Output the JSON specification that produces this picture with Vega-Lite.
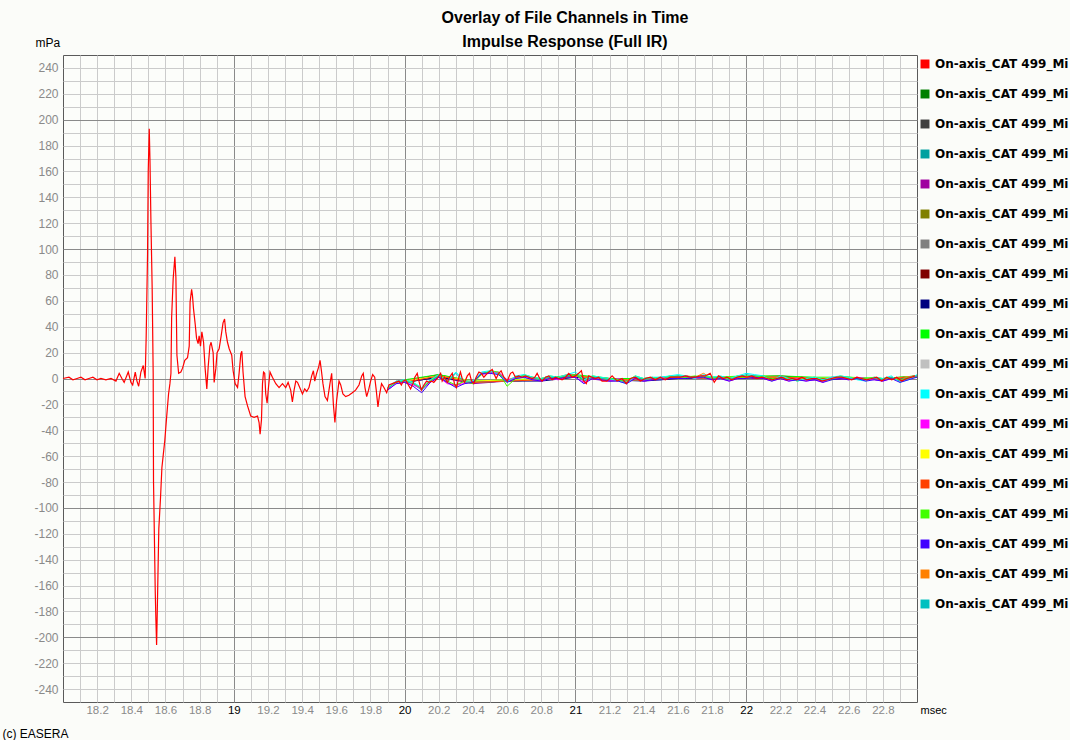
{
"$schema": "https://vega.github.io/schema/vega-lite/v6.json",
"width": 854, "height": 647,
"autosize": {"type": "none"},
"padding": {"left": 63, "top": 55, "right": 153, "bottom": 38},
"background": "#fbfcf9",
"config": {"view": {"stroke": "#5a5a5a", "fill": "#fcfdfa", "strokeWidth": 1}},
"title": {"text": ["Overlay of File Channels in Time", "Impulse Response (Full IR)"], "anchor": "middle", "dx": 75, "offset": -14, "fontSize": 16, "font": "Liberation Sans", "fontWeight": "bold", "lineHeight": 24, "color": "#000000"},
"datasets": {
"channels": [
{"c":1,"name":"On-axis_CAT 499_Mic 01"},{"c":2,"name":"On-axis_CAT 499_Mic 02"},{"c":3,"name":"On-axis_CAT 499_Mic 03"},{"c":4,"name":"On-axis_CAT 499_Mic 04"},{"c":5,"name":"On-axis_CAT 499_Mic 05"},{"c":6,"name":"On-axis_CAT 499_Mic 06"},{"c":7,"name":"On-axis_CAT 499_Mic 07"},{"c":8,"name":"On-axis_CAT 499_Mic 08"},{"c":9,"name":"On-axis_CAT 499_Mic 09"},{"c":10,"name":"On-axis_CAT 499_Mic 10"},{"c":11,"name":"On-axis_CAT 499_Mic 11"},{"c":12,"name":"On-axis_CAT 499_Mic 12"},{"c":13,"name":"On-axis_CAT 499_Mic 13"},{"c":14,"name":"On-axis_CAT 499_Mic 14"},{"c":15,"name":"On-axis_CAT 499_Mic 15"},{"c":16,"name":"On-axis_CAT 499_Mic 16"},{"c":17,"name":"On-axis_CAT 499_Mic 17"},{"c":18,"name":"On-axis_CAT 499_Mic 18"},{"c":19,"name":"On-axis_CAT 499_Mic 19"}
],
"ir": [
{"c":2,"t":20,"v":-2},{"c":2,"t":20.2,"v":2},{"c":2,"t":20.4,"v":-3},{"c":2,"t":20.6,"v":-2},{"c":2,"t":20.8,"v":-1},{"c":2,"t":21,"v":2},{"c":2,"t":21.2,"v":-1},{"c":2,"t":21.4,"v":-1},{"c":2,"t":21.6,"v":1},{"c":2,"t":21.8,"v":0},{"c":2,"t":22,"v":1},{"c":2,"t":22.2,"v":1},{"c":2,"t":22.4,"v":0},{"c":2,"t":22.6,"v":0},{"c":2,"t":22.8,"v":-1},{"c":2,"t":23,"v":2},
{"c":3,"t":20,"v":-3},{"c":3,"t":20.2,"v":1},{"c":3,"t":20.4,"v":-3},{"c":3,"t":20.6,"v":-1},{"c":3,"t":20.8,"v":-1},{"c":3,"t":21,"v":2},{"c":3,"t":21.2,"v":-1},{"c":3,"t":21.4,"v":0},{"c":3,"t":21.6,"v":1},{"c":3,"t":21.8,"v":0},{"c":3,"t":22,"v":1},{"c":3,"t":22.2,"v":1},{"c":3,"t":22.4,"v":0},{"c":3,"t":22.6,"v":0},{"c":3,"t":22.8,"v":-1},{"c":3,"t":23,"v":1},
{"c":4,"t":20,"v":-2},{"c":4,"t":20.2,"v":2},{"c":4,"t":20.4,"v":-2},{"c":4,"t":20.6,"v":-2},{"c":4,"t":20.8,"v":0},{"c":4,"t":21,"v":2},{"c":4,"t":21.2,"v":-1},{"c":4,"t":21.4,"v":-1},{"c":4,"t":21.6,"v":1},{"c":4,"t":21.8,"v":1},{"c":4,"t":22,"v":1},{"c":4,"t":22.2,"v":1},{"c":4,"t":22.4,"v":0},{"c":4,"t":22.6,"v":1},{"c":4,"t":22.8,"v":-1},{"c":4,"t":23,"v":2},
{"c":5,"t":20,"v":-3},{"c":5,"t":20.2,"v":1},{"c":5,"t":20.4,"v":-4},{"c":5,"t":20.6,"v":-2},{"c":5,"t":20.8,"v":-1},{"c":5,"t":21,"v":1},{"c":5,"t":21.2,"v":-2},{"c":5,"t":21.4,"v":-1},{"c":5,"t":21.6,"v":0},{"c":5,"t":21.8,"v":0},{"c":5,"t":22,"v":0},{"c":5,"t":22.2,"v":0},{"c":5,"t":22.4,"v":-1},{"c":5,"t":22.6,"v":0},{"c":5,"t":22.8,"v":-1},{"c":5,"t":23,"v":1},
{"c":6,"t":20,"v":-2},{"c":6,"t":20.2,"v":2},{"c":6,"t":20.4,"v":-3},{"c":6,"t":20.6,"v":-1},{"c":6,"t":20.8,"v":-1},{"c":6,"t":21,"v":2},{"c":6,"t":21.2,"v":-1},{"c":6,"t":21.4,"v":-1},{"c":6,"t":21.6,"v":1},{"c":6,"t":21.8,"v":0},{"c":6,"t":22,"v":1},{"c":6,"t":22.2,"v":1},{"c":6,"t":22.4,"v":0},{"c":6,"t":22.6,"v":0},{"c":6,"t":22.8,"v":0},{"c":6,"t":23,"v":2},
{"c":7,"t":20,"v":-2},{"c":7,"t":20.2,"v":2},{"c":7,"t":20.4,"v":-3},{"c":7,"t":20.6,"v":-2},{"c":7,"t":20.8,"v":-1},{"c":7,"t":21,"v":1},{"c":7,"t":21.2,"v":-1},{"c":7,"t":21.4,"v":-1},{"c":7,"t":21.6,"v":1},{"c":7,"t":21.8,"v":0},{"c":7,"t":22,"v":1},{"c":7,"t":22.2,"v":1},{"c":7,"t":22.4,"v":0},{"c":7,"t":22.6,"v":0},{"c":7,"t":22.8,"v":-1},{"c":7,"t":23,"v":2},
{"c":8,"t":20,"v":-2},{"c":8,"t":20.2,"v":3},{"c":8,"t":20.4,"v":-3},{"c":8,"t":20.6,"v":-2},{"c":8,"t":20.8,"v":-1},{"c":8,"t":21,"v":2},{"c":8,"t":21.2,"v":0},{"c":8,"t":21.4,"v":-1},{"c":8,"t":21.6,"v":1},{"c":8,"t":21.8,"v":0},{"c":8,"t":22,"v":1},{"c":8,"t":22.2,"v":2},{"c":8,"t":22.4,"v":0},{"c":8,"t":22.6,"v":0},{"c":8,"t":22.8,"v":-1},{"c":8,"t":23,"v":2},
{"c":9,"t":20,"v":-3},{"c":9,"t":20.2,"v":1},{"c":9,"t":20.4,"v":-3},{"c":9,"t":20.6,"v":-2},{"c":9,"t":20.8,"v":-2},{"c":9,"t":21,"v":1},{"c":9,"t":21.2,"v":-1},{"c":9,"t":21.4,"v":-2},{"c":9,"t":21.6,"v":0},{"c":9,"t":21.8,"v":0},{"c":9,"t":22,"v":1},{"c":9,"t":22.2,"v":0},{"c":9,"t":22.4,"v":-1},{"c":9,"t":22.6,"v":0},{"c":9,"t":22.8,"v":-1},{"c":9,"t":23,"v":1},
{"c":10,"t":20,"v":-1},{"c":10,"t":20.2,"v":3},{"c":10,"t":20.4,"v":-2},{"c":10,"t":20.6,"v":-1},{"c":10,"t":20.8,"v":0},{"c":10,"t":21,"v":3},{"c":10,"t":21.2,"v":0},{"c":10,"t":21.4,"v":0},{"c":10,"t":21.6,"v":2},{"c":10,"t":21.8,"v":1},{"c":10,"t":22,"v":2},{"c":10,"t":22.2,"v":2},{"c":10,"t":22.4,"v":1},{"c":10,"t":22.6,"v":1},{"c":10,"t":22.8,"v":0},{"c":10,"t":23,"v":2},
{"c":11,"t":20,"v":-2},{"c":11,"t":20.2,"v":2},{"c":11,"t":20.4,"v":-3},{"c":11,"t":20.6,"v":-2},{"c":11,"t":20.8,"v":-1},{"c":11,"t":21,"v":2},{"c":11,"t":21.2,"v":-1},{"c":11,"t":21.4,"v":-1},{"c":11,"t":21.6,"v":1},{"c":11,"t":21.8,"v":0},{"c":11,"t":22,"v":1},{"c":11,"t":22.2,"v":1},{"c":11,"t":22.4,"v":0},{"c":11,"t":22.6,"v":0},{"c":11,"t":22.8,"v":-1},{"c":11,"t":23,"v":2},
{"c":14,"t":20,"v":-2},{"c":14,"t":20.2,"v":2},{"c":14,"t":20.4,"v":-2},{"c":14,"t":20.6,"v":-1},{"c":14,"t":20.8,"v":-1},{"c":14,"t":21,"v":2},{"c":14,"t":21.2,"v":-1},{"c":14,"t":21.4,"v":-1},{"c":14,"t":21.6,"v":1},{"c":14,"t":21.8,"v":1},{"c":14,"t":22,"v":1},{"c":14,"t":22.2,"v":1},{"c":14,"t":22.4,"v":0},{"c":14,"t":22.6,"v":1},{"c":14,"t":22.8,"v":-1},{"c":14,"t":23,"v":2},
{"c":15,"t":20,"v":-3},{"c":15,"t":20.2,"v":2},{"c":15,"t":20.4,"v":-3},{"c":15,"t":20.6,"v":-2},{"c":15,"t":20.8,"v":-1},{"c":15,"t":21,"v":2},{"c":15,"t":21.2,"v":-1},{"c":15,"t":21.4,"v":-1},{"c":15,"t":21.6,"v":1},{"c":15,"t":21.8,"v":0},{"c":15,"t":22,"v":1},{"c":15,"t":22.2,"v":1},{"c":15,"t":22.4,"v":0},{"c":15,"t":22.6,"v":0},{"c":15,"t":22.8,"v":-1},{"c":15,"t":23,"v":2},
{"c":18,"t":19.9,"v":-8},{"c":18,"t":19.95,"v":-2},{"c":18,"t":20,"v":-2},{"c":18,"t":20.05,"v":-4},{"c":18,"t":20.1,"v":-8},{"c":18,"t":20.15,"v":-1},{"c":18,"t":20.2,"v":2},{"c":18,"t":20.25,"v":-3},{"c":18,"t":20.3,"v":-6},{"c":18,"t":20.35,"v":-2},{"c":18,"t":20.4,"v":-3},{"c":18,"t":20.45,"v":4},{"c":18,"t":20.5,"v":5},{"c":18,"t":20.55,"v":4},{"c":18,"t":20.6,"v":-1},{"c":18,"t":20.65,"v":1},{"c":18,"t":20.7,"v":2},{"c":18,"t":20.75,"v":1},{"c":18,"t":20.8,"v":-1},{"c":18,"t":20.85,"v":1},{"c":18,"t":20.9,"v":1},{"c":18,"t":20.95,"v":3},{"c":18,"t":21,"v":3},{"c":18,"t":21.05,"v":-2},{"c":18,"t":21.1,"v":1},{"c":18,"t":21.15,"v":0},{"c":18,"t":21.2,"v":-1},{"c":18,"t":21.25,"v":-1},{"c":18,"t":21.3,"v":-3},{"c":18,"t":21.35,"v":1},{"c":18,"t":21.4,"v":-1},{"c":18,"t":21.45,"v":0},{"c":18,"t":21.5,"v":0},{"c":18,"t":21.55,"v":1},{"c":18,"t":21.6,"v":1},{"c":18,"t":21.65,"v":2},{"c":18,"t":21.7,"v":1},{"c":18,"t":21.75,"v":4},{"c":18,"t":21.8,"v":0},{"c":18,"t":21.85,"v":1},{"c":18,"t":21.9,"v":-1},{"c":18,"t":21.95,"v":1},{"c":18,"t":22,"v":1},{"c":18,"t":22.05,"v":2},{"c":18,"t":22.1,"v":1},{"c":18,"t":22.15,"v":-1},{"c":18,"t":22.2,"v":1},{"c":18,"t":22.25,"v":-1},{"c":18,"t":22.3,"v":-1},{"c":18,"t":22.35,"v":-1},{"c":18,"t":22.4,"v":0},{"c":18,"t":22.45,"v":-2},{"c":18,"t":22.5,"v":0},{"c":18,"t":22.55,"v":1},{"c":18,"t":22.6,"v":0},{"c":18,"t":22.65,"v":0},{"c":18,"t":22.7,"v":-1},{"c":18,"t":22.75,"v":0},{"c":18,"t":22.8,"v":-1},{"c":18,"t":22.85,"v":1},{"c":18,"t":22.9,"v":-2},{"c":18,"t":22.95,"v":0},{"c":18,"t":23,"v":2},
{"c":19,"t":19.9,"v":-8},{"c":19,"t":19.95,"v":-3},{"c":19,"t":20,"v":-2},{"c":19,"t":20.05,"v":-4},{"c":19,"t":20.1,"v":-9},{"c":19,"t":20.15,"v":-2},{"c":19,"t":20.2,"v":2},{"c":19,"t":20.25,"v":-3},{"c":19,"t":20.3,"v":4},{"c":19,"t":20.35,"v":-3},{"c":19,"t":20.4,"v":-3},{"c":19,"t":20.45,"v":4},{"c":19,"t":20.5,"v":5},{"c":19,"t":20.55,"v":4},{"c":19,"t":20.6,"v":-2},{"c":19,"t":20.65,"v":1},{"c":19,"t":20.7,"v":2},{"c":19,"t":20.75,"v":0},{"c":19,"t":20.8,"v":-1},{"c":19,"t":20.85,"v":1},{"c":19,"t":20.9,"v":0},{"c":19,"t":20.95,"v":2},{"c":19,"t":21,"v":3},{"c":19,"t":21.05,"v":-2},{"c":19,"t":21.1,"v":1},{"c":19,"t":21.15,"v":0},{"c":19,"t":21.2,"v":-1},{"c":19,"t":21.25,"v":-1},{"c":19,"t":21.3,"v":-3},{"c":19,"t":21.35,"v":1},{"c":19,"t":21.4,"v":-1},{"c":19,"t":21.45,"v":0},{"c":19,"t":21.5,"v":0},{"c":19,"t":21.55,"v":1},{"c":19,"t":21.6,"v":2},{"c":19,"t":21.65,"v":1},{"c":19,"t":21.7,"v":1},{"c":19,"t":21.75,"v":2},{"c":19,"t":21.8,"v":0},{"c":19,"t":21.85,"v":1},{"c":19,"t":21.9,"v":-1},{"c":19,"t":21.95,"v":1},{"c":19,"t":22,"v":3},{"c":19,"t":22.05,"v":2},{"c":19,"t":22.1,"v":1},{"c":19,"t":22.15,"v":-1},{"c":19,"t":22.2,"v":1},{"c":19,"t":22.25,"v":-1},{"c":19,"t":22.3,"v":-1},{"c":19,"t":22.35,"v":-1},{"c":19,"t":22.4,"v":0},{"c":19,"t":22.45,"v":-2},{"c":19,"t":22.5,"v":0},{"c":19,"t":22.55,"v":1},{"c":19,"t":22.6,"v":0},{"c":19,"t":22.65,"v":0},{"c":19,"t":22.7,"v":-1},{"c":19,"t":22.75,"v":0},{"c":19,"t":22.8,"v":-1},{"c":19,"t":22.85,"v":1},{"c":19,"t":22.9,"v":-2},{"c":19,"t":22.95,"v":0},{"c":19,"t":23,"v":2},
{"c":13,"t":19.9,"v":-9},{"c":13,"t":19.95,"v":-4},{"c":13,"t":20,"v":-3},{"c":13,"t":20.05,"v":-5},{"c":13,"t":20.1,"v":-8},{"c":13,"t":20.15,"v":-3},{"c":13,"t":20.2,"v":1},{"c":13,"t":20.25,"v":-4},{"c":13,"t":20.3,"v":-5},{"c":13,"t":20.35,"v":-4},{"c":13,"t":20.4,"v":-2},{"c":13,"t":20.45,"v":3},{"c":13,"t":20.5,"v":4},{"c":13,"t":20.55,"v":5},{"c":13,"t":20.6,"v":-1},{"c":13,"t":20.65,"v":0},{"c":13,"t":20.7,"v":1},{"c":13,"t":20.75,"v":-1},{"c":13,"t":20.8,"v":-2},{"c":13,"t":20.85,"v":0},{"c":13,"t":20.9,"v":-1},{"c":13,"t":20.95,"v":1},{"c":13,"t":21,"v":1},{"c":13,"t":21.05,"v":-3},{"c":13,"t":21.1,"v":0},{"c":13,"t":21.15,"v":-1},{"c":13,"t":21.2,"v":-2},{"c":13,"t":21.25,"v":0},{"c":13,"t":21.3,"v":-2},{"c":13,"t":21.35,"v":0},{"c":13,"t":21.4,"v":-2},{"c":13,"t":21.45,"v":-1},{"c":13,"t":21.5,"v":1},{"c":13,"t":21.55,"v":0},{"c":13,"t":21.6,"v":0},{"c":13,"t":21.65,"v":2},{"c":13,"t":21.7,"v":0},{"c":13,"t":21.75,"v":1},{"c":13,"t":21.8,"v":-1},{"c":13,"t":21.85,"v":0},{"c":13,"t":21.9,"v":-2},{"c":13,"t":21.95,"v":0},{"c":13,"t":22,"v":0},{"c":13,"t":22.05,"v":1},{"c":13,"t":22.1,"v":0},{"c":13,"t":22.15,"v":-2},{"c":13,"t":22.2,"v":0},{"c":13,"t":22.25,"v":-2},{"c":13,"t":22.3,"v":0},{"c":13,"t":22.35,"v":-2},{"c":13,"t":22.4,"v":-1},{"c":13,"t":22.45,"v":-3},{"c":13,"t":22.5,"v":1},{"c":13,"t":22.55,"v":0},{"c":13,"t":22.6,"v":-1},{"c":13,"t":22.65,"v":1},{"c":13,"t":22.7,"v":0},{"c":13,"t":22.75,"v":-1},{"c":13,"t":22.8,"v":-2},{"c":13,"t":22.85,"v":0},{"c":13,"t":22.9,"v":-1},{"c":13,"t":22.95,"v":1},{"c":13,"t":23,"v":1},
{"c":16,"t":19.9,"v":-7},{"c":16,"t":19.95,"v":-3},{"c":16,"t":20,"v":-1},{"c":16,"t":20.05,"v":-3},{"c":16,"t":20.1,"v":-8},{"c":16,"t":20.15,"v":-2},{"c":16,"t":20.2,"v":3},{"c":16,"t":20.25,"v":-2},{"c":16,"t":20.3,"v":-5},{"c":16,"t":20.35,"v":-2},{"c":16,"t":20.4,"v":-4},{"c":16,"t":20.45,"v":3},{"c":16,"t":20.5,"v":6},{"c":16,"t":20.55,"v":5},{"c":16,"t":20.6,"v":-6},{"c":16,"t":20.65,"v":0},{"c":16,"t":20.7,"v":3},{"c":16,"t":20.75,"v":1},{"c":16,"t":20.8,"v":0},{"c":16,"t":20.85,"v":2},{"c":16,"t":20.9,"v":1},{"c":16,"t":20.95,"v":1},{"c":16,"t":21,"v":3},{"c":16,"t":21.05,"v":-1},{"c":16,"t":21.1,"v":2},{"c":16,"t":21.15,"v":1},{"c":16,"t":21.2,"v":0},{"c":16,"t":21.25,"v":-1},{"c":16,"t":21.3,"v":-2},{"c":16,"t":21.35,"v":2},{"c":16,"t":21.4,"v":0},{"c":16,"t":21.45,"v":1},{"c":16,"t":21.5,"v":-1},{"c":16,"t":21.55,"v":2},{"c":16,"t":21.6,"v":0},{"c":16,"t":21.65,"v":1},{"c":16,"t":21.7,"v":2},{"c":16,"t":21.75,"v":1},{"c":16,"t":21.8,"v":1},{"c":16,"t":21.85,"v":0},{"c":16,"t":21.9,"v":0},{"c":16,"t":21.95,"v":2},{"c":16,"t":22,"v":0},{"c":16,"t":22.05,"v":1},{"c":16,"t":22.1,"v":2},{"c":16,"t":22.15,"v":0},{"c":16,"t":22.2,"v":0},{"c":16,"t":22.25,"v":0},{"c":16,"t":22.3,"v":-2},{"c":16,"t":22.35,"v":0},{"c":16,"t":22.4,"v":1},{"c":16,"t":22.45,"v":-1},{"c":16,"t":22.5,"v":-1},{"c":16,"t":22.55,"v":2},{"c":16,"t":22.6,"v":1},{"c":16,"t":22.65,"v":0},{"c":16,"t":22.7,"v":0},{"c":16,"t":22.75,"v":1},{"c":16,"t":22.8,"v":0},{"c":16,"t":22.85,"v":0},{"c":16,"t":22.9,"v":-1},{"c":16,"t":22.95,"v":1},{"c":16,"t":23,"v":1},
{"c":12,"t":19.9,"v":-7},{"c":12,"t":19.95,"v":-2},{"c":12,"t":20,"v":-1},{"c":12,"t":20.05,"v":-3},{"c":12,"t":20.1,"v":-7},{"c":12,"t":20.15,"v":-1},{"c":12,"t":20.2,"v":3},{"c":12,"t":20.25,"v":-2},{"c":12,"t":20.3,"v":5},{"c":12,"t":20.35,"v":-2},{"c":12,"t":20.4,"v":-2},{"c":12,"t":20.45,"v":5},{"c":12,"t":20.5,"v":6},{"c":12,"t":20.55,"v":3},{"c":12,"t":20.6,"v":-3},{"c":12,"t":20.65,"v":2},{"c":12,"t":20.7,"v":3},{"c":12,"t":20.75,"v":1},{"c":12,"t":20.8,"v":0},{"c":12,"t":20.85,"v":2},{"c":12,"t":20.9,"v":1},{"c":12,"t":20.95,"v":3},{"c":12,"t":21,"v":5},{"c":12,"t":21.05,"v":-1},{"c":12,"t":21.1,"v":2},{"c":12,"t":21.15,"v":1},{"c":12,"t":21.2,"v":0},{"c":12,"t":21.25,"v":-2},{"c":12,"t":21.3,"v":-4},{"c":12,"t":21.35,"v":2},{"c":12,"t":21.4,"v":0},{"c":12,"t":21.45,"v":1},{"c":12,"t":21.5,"v":1},{"c":12,"t":21.55,"v":2},{"c":12,"t":21.6,"v":3},{"c":12,"t":21.65,"v":2},{"c":12,"t":21.7,"v":0},{"c":12,"t":21.75,"v":3},{"c":12,"t":21.8,"v":1},{"c":12,"t":21.85,"v":2},{"c":12,"t":21.9,"v":0},{"c":12,"t":21.95,"v":2},{"c":12,"t":22,"v":4},{"c":12,"t":22.05,"v":3},{"c":12,"t":22.1,"v":2},{"c":12,"t":22.15,"v":-2},{"c":12,"t":22.2,"v":2},{"c":12,"t":22.25,"v":0},{"c":12,"t":22.3,"v":-2},{"c":12,"t":22.35,"v":0},{"c":12,"t":22.4,"v":1},{"c":12,"t":22.45,"v":-1},{"c":12,"t":22.5,"v":1},{"c":12,"t":22.55,"v":2},{"c":12,"t":22.6,"v":1},{"c":12,"t":22.65,"v":-1},{"c":12,"t":22.7,"v":-2},{"c":12,"t":22.75,"v":1},{"c":12,"t":22.8,"v":0},{"c":12,"t":22.85,"v":2},{"c":12,"t":22.9,"v":-3},{"c":12,"t":22.95,"v":-1},{"c":12,"t":23,"v":3},
{"c":17,"t":19.9,"v":-9},{"c":17,"t":19.95,"v":-4},{"c":17,"t":20,"v":-3},{"c":17,"t":20.05,"v":-6},{"c":17,"t":20.1,"v":-11},{"c":17,"t":20.15,"v":-3},{"c":17,"t":20.2,"v":1},{"c":17,"t":20.25,"v":-3},{"c":17,"t":20.3,"v":-7},{"c":17,"t":20.35,"v":-4},{"c":17,"t":20.4,"v":-3},{"c":17,"t":20.45,"v":4},{"c":17,"t":20.5,"v":4},{"c":17,"t":20.55,"v":3},{"c":17,"t":20.6,"v":-3},{"c":17,"t":20.65,"v":0},{"c":17,"t":20.7,"v":1},{"c":17,"t":20.75,"v":-1},{"c":17,"t":20.8,"v":-2},{"c":17,"t":20.85,"v":0},{"c":17,"t":20.9,"v":0},{"c":17,"t":20.95,"v":1},{"c":17,"t":21,"v":1},{"c":17,"t":21.05,"v":-4},{"c":17,"t":21.1,"v":0},{"c":17,"t":21.15,"v":-1},{"c":17,"t":21.2,"v":-2},{"c":17,"t":21.25,"v":-2},{"c":17,"t":21.3,"v":-4},{"c":17,"t":21.35,"v":0},{"c":17,"t":21.4,"v":-2},{"c":17,"t":21.45,"v":-1},{"c":17,"t":21.5,"v":-1},{"c":17,"t":21.55,"v":0},{"c":17,"t":21.6,"v":0},{"c":17,"t":21.65,"v":0},{"c":17,"t":21.7,"v":1},{"c":17,"t":21.75,"v":1},{"c":17,"t":21.8,"v":-1},{"c":17,"t":21.85,"v":0},{"c":17,"t":21.9,"v":-2},{"c":17,"t":21.95,"v":0},{"c":17,"t":22,"v":0},{"c":17,"t":22.05,"v":1},{"c":17,"t":22.1,"v":0},{"c":17,"t":22.15,"v":-2},{"c":17,"t":22.2,"v":0},{"c":17,"t":22.25,"v":-2},{"c":17,"t":22.3,"v":-1},{"c":17,"t":22.35,"v":-2},{"c":17,"t":22.4,"v":-1},{"c":17,"t":22.45,"v":-3},{"c":17,"t":22.5,"v":-1},{"c":17,"t":22.55,"v":0},{"c":17,"t":22.6,"v":-1},{"c":17,"t":22.65,"v":0},{"c":17,"t":22.7,"v":-2},{"c":17,"t":22.75,"v":-1},{"c":17,"t":22.8,"v":-2},{"c":17,"t":22.85,"v":0},{"c":17,"t":22.9,"v":-3},{"c":17,"t":22.95,"v":-1},{"c":17,"t":23,"v":1},
{"c":1,"t":18.0,"v":0},{"c":1,"t":18.035,"v":1},{"c":1,"t":18.058,"v":-1},{"c":1,"t":18.082,"v":0},{"c":1,"t":18.105,"v":1},{"c":1,"t":18.129,"v":-1},{"c":1,"t":18.152,"v":0},{"c":1,"t":18.175,"v":1},{"c":1,"t":18.199,"v":-1},{"c":1,"t":18.222,"v":0},{"c":1,"t":18.251,"v":-1},{"c":1,"t":18.281,"v":0},{"c":1,"t":18.31,"v":-2},{"c":1,"t":18.329,"v":4},{"c":1,"t":18.345,"v":0},{"c":1,"t":18.358,"v":-3},{"c":1,"t":18.382,"v":5},{"c":1,"t":18.398,"v":-3},{"c":1,"t":18.408,"v":-5},{"c":1,"t":18.423,"v":5},{"c":1,"t":18.433,"v":-2},{"c":1,"t":18.443,"v":-6},{"c":1,"t":18.456,"v":5},{"c":1,"t":18.47,"v":10},{"c":1,"t":18.481,"v":0},{"c":1,"t":18.487,"v":32},{"c":1,"t":18.495,"v":96},{"c":1,"t":18.499,"v":160},{"c":1,"t":18.505,"v":193},{"c":1,"t":18.509,"v":170},{"c":1,"t":18.515,"v":120},{"c":1,"t":18.522,"v":70},{"c":1,"t":18.528,"v":4},{"c":1,"t":18.53,"v":-80},{"c":1,"t":18.54,"v":-164},{"c":1,"t":18.544,"v":-187},{"c":1,"t":18.548,"v":-206},{"c":1,"t":18.551,"v":-187},{"c":1,"t":18.556,"v":-151},{"c":1,"t":18.561,"v":-116},{"c":1,"t":18.571,"v":-92},{"c":1,"t":18.579,"v":-69},{"c":1,"t":18.587,"v":-59},{"c":1,"t":18.596,"v":-48},{"c":1,"t":18.606,"v":-31},{"c":1,"t":18.618,"v":-12},{"c":1,"t":18.626,"v":-4},{"c":1,"t":18.632,"v":4},{"c":1,"t":18.636,"v":47},{"c":1,"t":18.645,"v":77},{"c":1,"t":18.655,"v":94},{"c":1,"t":18.661,"v":78},{"c":1,"t":18.667,"v":18},{"c":1,"t":18.677,"v":4},{"c":1,"t":18.69,"v":5},{"c":1,"t":18.7,"v":8},{"c":1,"t":18.713,"v":14},{"c":1,"t":18.729,"v":16},{"c":1,"t":18.739,"v":25},{"c":1,"t":18.744,"v":59},{"c":1,"t":18.753,"v":69},{"c":1,"t":18.758,"v":64},{"c":1,"t":18.764,"v":54},{"c":1,"t":18.774,"v":42},{"c":1,"t":18.782,"v":31},{"c":1,"t":18.791,"v":27},{"c":1,"t":18.797,"v":33},{"c":1,"t":18.805,"v":25},{"c":1,"t":18.813,"v":36},{"c":1,"t":18.823,"v":28},{"c":1,"t":18.832,"v":8},{"c":1,"t":18.842,"v":-8},{"c":1,"t":18.85,"v":9},{"c":1,"t":18.86,"v":25},{"c":1,"t":18.867,"v":28},{"c":1,"t":18.879,"v":20},{"c":1,"t":18.885,"v":-3},{"c":1,"t":18.895,"v":8},{"c":1,"t":18.902,"v":20},{"c":1,"t":18.914,"v":23},{"c":1,"t":18.926,"v":33},{"c":1,"t":18.937,"v":43},{"c":1,"t":18.946,"v":46},{"c":1,"t":18.953,"v":36},{"c":1,"t":18.963,"v":28},{"c":1,"t":18.973,"v":23},{"c":1,"t":18.988,"v":18},{"c":1,"t":18.996,"v":6},{"c":1,"t":19.008,"v":-4},{"c":1,"t":19.022,"v":-7},{"c":1,"t":19.031,"v":4},{"c":1,"t":19.041,"v":19},{"c":1,"t":19.047,"v":21},{"c":1,"t":19.054,"v":5},{"c":1,"t":19.066,"v":-14},{"c":1,"t":19.08,"v":-21},{"c":1,"t":19.099,"v":-29},{"c":1,"t":19.119,"v":-30},{"c":1,"t":19.139,"v":-29},{"c":1,"t":19.148,"v":-34},{"c":1,"t":19.154,"v":-43},{"c":1,"t":19.162,"v":-32},{"c":1,"t":19.168,"v":-4},{"c":1,"t":19.174,"v":5},{"c":1,"t":19.181,"v":4},{"c":1,"t":19.187,"v":-12},{"c":1,"t":19.195,"v":-19},{"c":1,"t":19.203,"v":-7},{"c":1,"t":19.212,"v":5},{"c":1,"t":19.226,"v":1},{"c":1,"t":19.246,"v":-4},{"c":1,"t":19.265,"v":-7},{"c":1,"t":19.285,"v":-4},{"c":1,"t":19.304,"v":-7},{"c":1,"t":19.318,"v":-3},{"c":1,"t":19.333,"v":-9},{"c":1,"t":19.343,"v":-18},{"c":1,"t":19.353,"v":-9},{"c":1,"t":19.363,"v":-2},{"c":1,"t":19.373,"v":-3},{"c":1,"t":19.386,"v":-7},{"c":1,"t":19.402,"v":-12},{"c":1,"t":19.415,"v":-8},{"c":1,"t":19.427,"v":-10},{"c":1,"t":19.44,"v":-7},{"c":1,"t":19.456,"v":2},{"c":1,"t":19.466,"v":6},{"c":1,"t":19.474,"v":-2},{"c":1,"t":19.485,"v":4},{"c":1,"t":19.497,"v":9},{"c":1,"t":19.505,"v":14},{"c":1,"t":19.513,"v":6},{"c":1,"t":19.522,"v":-4},{"c":1,"t":19.534,"v":-14},{"c":1,"t":19.548,"v":-17},{"c":1,"t":19.563,"v":-4},{"c":1,"t":19.573,"v":4},{"c":1,"t":19.583,"v":-20},{"c":1,"t":19.592,"v":-34},{"c":1,"t":19.602,"v":-17},{"c":1,"t":19.616,"v":-2},{"c":1,"t":19.626,"v":-5},{"c":1,"t":19.639,"v":-12},{"c":1,"t":19.655,"v":-14},{"c":1,"t":19.674,"v":-13},{"c":1,"t":19.694,"v":-11},{"c":1,"t":19.713,"v":-9},{"c":1,"t":19.733,"v":-5},{"c":1,"t":19.749,"v":2},{"c":1,"t":19.758,"v":4},{"c":1,"t":19.768,"v":-7},{"c":1,"t":19.778,"v":-14},{"c":1,"t":19.789,"v":-9},{"c":1,"t":19.801,"v":-2},{"c":1,"t":19.813,"v":3},{"c":1,"t":19.825,"v":1},{"c":1,"t":19.834,"v":-9},{"c":1,"t":19.844,"v":-22},{"c":1,"t":19.854,"v":-12},{"c":1,"t":19.865,"v":-4},{"c":1,"t":19.879,"v":-7},{"c":1,"t":19.895,"v":-11},{"c":1,"t":19.908,"v":-5},{"c":1,"t":19.928,"v":-4},{"c":1,"t":19.947,"v":-3},{"c":1,"t":19.967,"v":-2},{"c":1,"t":19.981,"v":-5},{"c":1,"t":19.992,"v":-2},{"c":1,"t":20.006,"v":-1},{"c":1,"t":20.022,"v":-5},{"c":1,"t":20.035,"v":-8},{"c":1,"t":20.049,"v":-4},{"c":1,"t":20.06,"v":1},{"c":1,"t":20.074,"v":4},{"c":1,"t":20.084,"v":-2},{"c":1,"t":20.098,"v":-9},{"c":1,"t":20.113,"v":-5},{"c":1,"t":20.129,"v":-2},{"c":1,"t":20.142,"v":-3},{"c":1,"t":20.158,"v":-2},{"c":1,"t":20.171,"v":-3},{"c":1,"t":20.191,"v":0},{"c":1,"t":20.211,"v":4},{"c":1,"t":20.22,"v":-2},{"c":1,"t":20.234,"v":1},{"c":1,"t":20.25,"v":-3},{"c":1,"t":20.263,"v":1},{"c":1,"t":20.279,"v":4},{"c":1,"t":20.292,"v":-4},{"c":1,"t":20.304,"v":-7},{"c":1,"t":20.318,"v":1},{"c":1,"t":20.327,"v":5},{"c":1,"t":20.337,"v":0},{"c":1,"t":20.351,"v":-3},{"c":1,"t":20.367,"v":2},{"c":1,"t":20.38,"v":4},{"c":1,"t":20.392,"v":-2},{"c":1,"t":20.405,"v":-4},{"c":1,"t":20.419,"v":1},{"c":1,"t":20.435,"v":5},{"c":1,"t":20.449,"v":4},{"c":1,"t":20.464,"v":1},{"c":1,"t":20.484,"v":4},{"c":1,"t":20.503,"v":6},{"c":1,"t":20.513,"v":7},{"c":1,"t":20.522,"v":4},{"c":1,"t":20.536,"v":0},{"c":1,"t":20.551,"v":4},{"c":1,"t":20.565,"v":6},{"c":1,"t":20.581,"v":1},{"c":1,"t":20.601,"v":-2},{"c":1,"t":20.62,"v":4},{"c":1,"t":20.633,"v":5},{"c":1,"t":20.649,"v":1},{"c":1,"t":20.668,"v":2},{"c":1,"t":20.688,"v":1},{"c":1,"t":20.708,"v":2},{"c":1,"t":20.727,"v":1},{"c":1,"t":20.747,"v":0},{"c":1,"t":20.762,"v":1},{"c":1,"t":20.776,"v":4},{"c":1,"t":20.791,"v":0},{"c":1,"t":20.805,"v":-2},{"c":1,"t":20.825,"v":1},{"c":1,"t":20.844,"v":2},{"c":1,"t":20.864,"v":-1},{"c":1,"t":20.883,"v":1},{"c":1,"t":20.902,"v":0},{"c":1,"t":20.922,"v":-1},{"c":1,"t":20.942,"v":1},{"c":1,"t":20.961,"v":4},{"c":1,"t":20.981,"v":1},{"c":1,"t":21.0,"v":2},{"c":1,"t":21.019,"v":4},{"c":1,"t":21.035,"v":6},{"c":1,"t":21.049,"v":-2},{"c":1,"t":21.064,"v":-4},{"c":1,"t":21.078,"v":2},{"c":1,"t":21.098,"v":1},{"c":1,"t":21.117,"v":0},{"c":1,"t":21.136,"v":1},{"c":1,"t":21.156,"v":-2},{"c":1,"t":21.185,"v":-2},{"c":1,"t":21.215,"v":2},{"c":1,"t":21.244,"v":-2},{"c":1,"t":21.273,"v":0},{"c":1,"t":21.298,"v":-4},{"c":1,"t":21.322,"v":0},{"c":1,"t":21.351,"v":1},{"c":1,"t":21.38,"v":-2},{"c":1,"t":21.409,"v":0},{"c":1,"t":21.439,"v":1},{"c":1,"t":21.468,"v":-1},{"c":1,"t":21.497,"v":1},{"c":1,"t":21.526,"v":-1},{"c":1,"t":21.556,"v":1},{"c":1,"t":21.585,"v":1},{"c":1,"t":21.614,"v":1},{"c":1,"t":21.643,"v":2},{"c":1,"t":21.673,"v":1},{"c":1,"t":21.702,"v":1},{"c":1,"t":21.731,"v":2},{"c":1,"t":21.76,"v":2},{"c":1,"t":21.789,"v":4},{"c":1,"t":21.813,"v":-3},{"c":1,"t":21.838,"v":2},{"c":1,"t":21.864,"v":0},{"c":1,"t":21.887,"v":1},{"c":1,"t":21.916,"v":-1},{"c":1,"t":21.946,"v":1},{"c":1,"t":21.975,"v":2},{"c":1,"t":22.004,"v":1},{"c":1,"t":22.033,"v":2},{"c":1,"t":22.063,"v":0},{"c":1,"t":22.092,"v":1},{"c":1,"t":22.121,"v":0},{"c":1,"t":22.15,"v":-1},{"c":1,"t":22.179,"v":0},{"c":1,"t":22.209,"v":1},{"c":1,"t":22.238,"v":-1},{"c":1,"t":22.267,"v":0},{"c":1,"t":22.296,"v":-1},{"c":1,"t":22.326,"v":1},{"c":1,"t":22.355,"v":-1},{"c":1,"t":22.384,"v":0},{"c":1,"t":22.413,"v":0},{"c":1,"t":22.443,"v":-2},{"c":1,"t":22.472,"v":-1},{"c":1,"t":22.501,"v":0},{"c":1,"t":22.53,"v":1},{"c":1,"t":22.56,"v":1},{"c":1,"t":22.589,"v":0},{"c":1,"t":22.618,"v":-1},{"c":1,"t":22.647,"v":1},{"c":1,"t":22.676,"v":0},{"c":1,"t":22.706,"v":-1},{"c":1,"t":22.735,"v":0},{"c":1,"t":22.764,"v":1},{"c":1,"t":22.793,"v":-2},{"c":1,"t":22.823,"v":1},{"c":1,"t":22.852,"v":-1},{"c":1,"t":22.881,"v":1},{"c":1,"t":22.91,"v":-2},{"c":1,"t":22.94,"v":0},{"c":1,"t":22.969,"v":1},{"c":1,"t":22.988,"v":2}
]
},
"data": {"name": "ir"},
"transform": [{"lookup": "c", "from": {"data": {"name": "channels"}, "key": "c", "fields": ["name"]}}],
"encoding": {
"y": {"field": "v", "type": "quantitative", "scale": {"domain": [-250, 250], "nice": false, "zero": false},
 "axis": {"values": [-240,-230,-220,-210,-200,-190,-180,-170,-160,-150,-140,-130,-120,-110,-100,-90,-80,-70,-60,-50,-40,-30,-20,-10,0,10,20,30,40,50,60,70,80,90,100,110,120,130,140,150,160,170,180,190,200,210,220,230,240],
  "labelExpr": "datum.value % 20 == 0 ? '' + datum.value : ''",
  "grid": true, "gridColor": {"condition": {"test": "datum.value % 100 == 0", "value": "#8a8a8a"}, "value": "#cbcbcb"}, "gridWidth": 1,
  "ticks": false, "domain": false, "labelColor": "#8a8a8a", "labelFont": "Liberation Sans", "labelFontSize": 12, "labelPadding": 5, "labelOverlap": false,
  "title": "mPa", "titleAngle": 0, "titleX": -28, "titleY": -13, "titleAlign": "left", "titleBaseline": "middle", "titleFont": "Liberation Sans", "titleFontSize": 12, "titleFontWeight": "normal", "titleColor": "#000000"}},
"color": {"field": "name", "type": "nominal",
 "scale": {"domain": ["On-axis_CAT 499_Mic 01","On-axis_CAT 499_Mic 02","On-axis_CAT 499_Mic 03","On-axis_CAT 499_Mic 04","On-axis_CAT 499_Mic 05","On-axis_CAT 499_Mic 06","On-axis_CAT 499_Mic 07","On-axis_CAT 499_Mic 08","On-axis_CAT 499_Mic 09","On-axis_CAT 499_Mic 10","On-axis_CAT 499_Mic 11","On-axis_CAT 499_Mic 12","On-axis_CAT 499_Mic 13","On-axis_CAT 499_Mic 14","On-axis_CAT 499_Mic 15","On-axis_CAT 499_Mic 16","On-axis_CAT 499_Mic 17","On-axis_CAT 499_Mic 18","On-axis_CAT 499_Mic 19"],
  "range": ["#ff0000","#008000","#404040","#00a0a0","#a000a0","#808000","#808080","#800000","#000080","#00ff00","#c0c0c0","#00ffff","#ff00ff","#ffff00","#ff4000","#40ff00","#4000ff","#ff8000","#00c0c0"]},
 "legend": {"orient": "none", "legendX": 856, "legendY": 3, "title": null, "padding": 0, "symbolType": "square", "symbolSize": 80, "symbolStrokeWidth": 0, "labelFont": "DejaVu Sans", "labelFontSize": 12, "labelFontWeight": "bold", "labelColor": "#000000", "rowPadding": 18, "labelOffset": 4, "labelLimit": 0, "labelExpr": "substring(datum.label, 0, 18)",
  "encode": {"symbols": {"update": {"fill": {"scale": "color", "field": "value"}, "fillOpacity": {"value": 1}}}}}}
},
"layer": [
{"transform": [{"filter": "indexof([2,3,4,5,6,7,8,9,10,11,14,15], datum.c) >= 0"}],
 "mark": {"type": "line", "strokeWidth": 1},
 "encoding": {"x": {"field": "t", "type": "quantitative", "scale": {"domain": [18, 23], "nice": false, "zero": false}, "axis": null}}},
{"transform": [{"filter": "indexof([12,13,16,17,18,19], datum.c) >= 0"}],
 "mark": {"type": "line", "strokeWidth": 1},
 "encoding": {"x": {"field": "t", "type": "quantitative", "scale": {"domain": [18, 23], "nice": false, "zero": false},
  "axis": {"orient": "top", "labels": false, "ticks": false, "domain": false, "grid": false, "title": "(c) EASERA", "titleX": -61, "titleY": 678, "titleAlign": "left", "titleBaseline": "middle", "titleAngle": 0, "titleFont": "Liberation Sans", "titleFontSize": 12, "titleFontWeight": "normal", "titleColor": "#000000"}}}},
{"transform": [{"filter": "datum.c == 1"}],
 "mark": {"type": "line", "strokeWidth": 1.2},
 "encoding": {"x": {"field": "t", "type": "quantitative", "scale": {"domain": [18, 23], "nice": false, "zero": false},
  "axis": {"values": [18.1,18.2,18.3,18.4,18.5,18.6,18.7,18.8,18.9,19,19.1,19.2,19.3,19.4,19.5,19.6,19.7,19.8,19.9,20,20.1,20.2,20.3,20.4,20.5,20.6,20.7,20.8,20.9,21,21.1,21.2,21.3,21.4,21.5,21.6,21.7,21.8,21.9,22,22.1,22.2,22.3,22.4,22.5,22.6,22.7,22.8,22.9],
   "labelExpr": "round(datum.value * 10) % 2 == 0 ? '' + datum.value : ''",
   "grid": true, "gridColor": {"condition": {"test": "abs(datum.value - round(datum.value)) < 0.001", "value": "#8a8a8a"}, "value": "#cbcbcb"}, "gridWidth": 1,
   "ticks": false, "domain": false,
   "labelColor": {"condition": {"test": "abs(datum.value - round(datum.value)) < 0.001", "value": "#000000"}, "value": "#8a8a8a"},
   "labelFont": "Liberation Sans", "labelFontSize": 11.5, "labelPadding": 2, "labelFlush": false, "labelOverlap": false,
   "title": "msec", "titleX": 857, "titleY": 2, "titleAlign": "left", "titleBaseline": "top", "titleFont": "Liberation Sans", "titleFontSize": 11, "titleFontWeight": "normal", "titleColor": "#000000"}}}}
],
"resolve": {"axis": {"x": "independent"}}
}
